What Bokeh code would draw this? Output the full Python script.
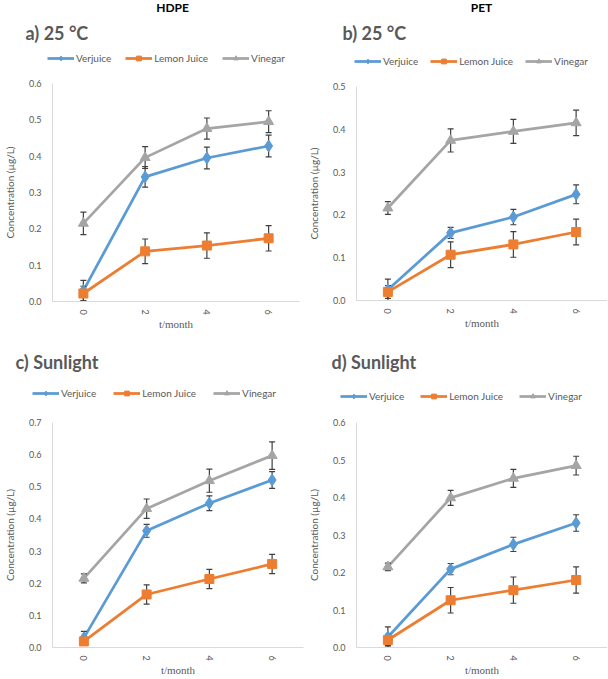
import math
from bokeh.plotting import figure
from bokeh.models import Range1d, NumeralTickFormatter, FixedTicker, Label, Legend, LegendItem
from bokeh.layouts import column, row
from bokeh.embed import file_html
from bokeh.resources import INLINE

# ---------------- data ----------------
months = ["0", "2", "4", "6"]
series_names = ["Verjuice", "Lemon Juice", "Vinegar"]

# a) HDPE, 25 oC
hdpe25_verjuice = [0.030, 0.343, 0.395, 0.428]
hdpe25_verjuice_err = [0.028, 0.028, 0.030, 0.030]
hdpe25_lemon = [0.022, 0.138, 0.154, 0.174]
hdpe25_lemon_err = [0.020, 0.034, 0.035, 0.035]
hdpe25_vinegar = [0.215, 0.396, 0.476, 0.495]
hdpe25_vinegar_err = [0.031, 0.030, 0.029, 0.030]

# b) PET, 25 oC
pet25_verjuice = [0.025, 0.158, 0.195, 0.248]
pet25_verjuice_err = [0.025, 0.013, 0.018, 0.022]
pet25_lemon = [0.020, 0.107, 0.131, 0.160]
pet25_lemon_err = [0.015, 0.030, 0.030, 0.030]
pet25_vinegar = [0.216, 0.374, 0.395, 0.415]
pet25_vinegar_err = [0.015, 0.027, 0.028, 0.030]

# c) HDPE, sunlight
hdpesun_verjuice = [0.030, 0.363, 0.449, 0.521]
hdpesun_verjuice_err = [0.020, 0.020, 0.023, 0.026]
hdpesun_lemon = [0.019, 0.165, 0.213, 0.260]
hdpesun_lemon_err = [0.012, 0.030, 0.030, 0.030]
hdpesun_vinegar = [0.215, 0.432, 0.519, 0.597]
hdpesun_vinegar_err = [0.014, 0.030, 0.036, 0.043]

# d) PET, sunlight
petsun_verjuice = [0.028, 0.209, 0.275, 0.332]
petsun_verjuice_err = [0.027, 0.015, 0.019, 0.022]
petsun_lemon = [0.020, 0.126, 0.153, 0.180]
petsun_lemon_err = [0.015, 0.034, 0.035, 0.035]
petsun_vinegar = [0.215, 0.399, 0.451, 0.485]
petsun_vinegar_err = [0.010, 0.020, 0.024, 0.025]

y_max = [0.6, 0.5, 0.7, 0.6]
column_titles = ["HDPE", "PET", None, None]
panel_labels = ["a)  25 \u00b0C", "b)  25 \u00b0C", "c)  Sunlight", "d)  Sunlight"]

colors = ["#5B9BD5", "#ED7D31", "#A5A5A5"]
markers = ["diamond", "square", "triangle"]
marker_sizes = [12, 9, 10]
legend_marker_sizes = [10, 8, 9]
ERR_COLOR = "#404040"
TXT = "#595959"

panels_data = [
    [(hdpe25_verjuice, hdpe25_verjuice_err), (hdpe25_lemon, hdpe25_lemon_err), (hdpe25_vinegar, hdpe25_vinegar_err)],
    [(pet25_verjuice, pet25_verjuice_err), (pet25_lemon, pet25_lemon_err), (pet25_vinegar, pet25_vinegar_err)],
    [(hdpesun_verjuice, hdpesun_verjuice_err), (hdpesun_lemon, hdpesun_lemon_err), (hdpesun_vinegar, hdpesun_vinegar_err)],
    [(petsun_verjuice, petsun_verjuice_err), (petsun_lemon, petsun_lemon_err), (petsun_vinegar, petsun_vinegar_err)],
]

# layout geometry in page pixels: quadrant origin/size, plot frame top, borders,
# and positions of title / panel label / legend
geom = [
    dict(ox=0, oy=0, w=304, h=340, ftop=83, bl=43, br=5, bb=39,
         title=(172, 7), plabel=(25, 32), legend=(47, 58), spacing=14),
    dict(ox=304, oy=0, w=303, h=340, ftop=86, bl=52, br=0, bb=40,
         title=(481, 7), plabel=(342, 32), legend=(354, 61), spacing=12),
    dict(ox=0, oy=340, w=304, h=338, ftop=422, bl=42, br=1, bb=31,
         title=None, plabel=(15, 361), legend=(32, 393), spacing=17),
    dict(ox=304, oy=340, w=303, h=338, ftop=422, bl=52, br=0, bb=31,
         title=None, plabel=(331, 361), legend=(340, 396), spacing=16),
]
TOP_PAD = 6
LEG_H = 12
NAN = float("nan")


def make_header(i, hh):
    g = geom[i]
    w = g["w"]
    hd = figure(width=w, height=hh, x_range=Range1d(0, w), y_range=Range1d(0, hh),
                output_backend="svg", toolbar_location=None, min_border=0,
                x_axis_location=None, y_axis_location=None, frame_align=False)
    hd.outline_line_color = None
    hd.grid.visible = False
    hd.background_fill_color = "white"
    hd.border_fill_color = "white"

    def hx(xw):
        return xw - g["ox"]

    def hy(yw):
        return hh - (yw - g["oy"])

    if column_titles[i]:
        tx, ty = g["title"]
        hd.add_layout(Label(x=hx(tx), y=hy(ty), text=column_titles[i], text_font="Lato",
                            text_font_size="12px", text_font_style="bold", text_color="black",
                            text_align="center", text_baseline="middle"))
    px, py = g["plabel"]
    hd.add_layout(Label(x=hx(px), y=hy(py), text=panel_labels[i], text_font="Lato",
                        text_font_size="18px", text_font_style="bold", text_color=TXT,
                        text_align="left", text_baseline="middle"))

    # legend proxies (no visible data of their own)
    items = []
    for n, c, m, s in zip(series_names, colors, markers, legend_marker_sizes):
        lr = hd.line(x=[NAN], y=[NAN], line_color=c, line_width=2.75)
        mr = hd.scatter(x=[NAN], y=[NAN], marker=m, size=s, fill_color=c, line_color=c)
        items.append(LegendItem(label=n, renderers=[lr, mr]))
    lx, ly = g["legend"]
    leg = Legend(items=items, location=(hx(lx), hy(ly) - LEG_H / 2), orientation="horizontal",
                 margin=0, padding=0, spacing=g["spacing"], glyph_width=27, glyph_height=LEG_H,
                 label_height=LEG_H, label_standoff=2, label_text_font="Lato",
                 label_text_font_size="10px", label_text_color=TXT,
                 background_fill_alpha=0, border_line_color=None)
    hd.add_layout(leg)
    return hd


def make_plot(i):
    g = geom[i]
    ymax = y_max[i]
    ph = g["oy"] + g["h"] - (g["ftop"] - TOP_PAD)
    p = figure(width=g["w"], height=ph, x_range=months, y_range=Range1d(0, ymax),
               output_backend="svg", toolbar_location=None, frame_align=False,
               min_border_left=g["bl"], min_border_right=g["br"],
               min_border_top=TOP_PAD, min_border_bottom=g["bb"])
    p.outline_line_color = None
    p.xgrid.visible = False
    p.ygrid.visible = False
    p.background_fill_color = "white"
    p.border_fill_color = "white"

    nt = int(round(ymax / 0.1))
    p.yaxis.ticker = FixedTicker(ticks=[round(k * 0.1, 1) for k in range(nt + 1)])
    p.yaxis.formatter = NumeralTickFormatter(format="0.0")

    for ax in (p.xaxis[0], p.yaxis[0]):
        ax.axis_line_color = "#D9D9D9"
        ax.axis_line_width = 1
        ax.major_tick_line_color = None
        ax.minor_tick_line_color = None
        ax.major_label_text_color = TXT
        ax.major_label_text_font = "Lato"
        ax.major_label_text_font_size = "9px"
        ax.axis_label_text_color = TXT
        ax.axis_label_text_font_style = "normal"
    p.yaxis.major_label_standoff = 5
    p.yaxis.axis_label_standoff = 10
    p.xaxis.major_label_standoff = 2
    p.xaxis.axis_label_standoff = 0
    p.xaxis.major_label_orientation = -math.pi / 2
    p.yaxis.axis_label = "Concentration (\u00b5g/L)"
    p.yaxis.axis_label_text_font = "Lato"
    p.yaxis.axis_label_text_font_size = "10px"
    p.xaxis.axis_label = "t/month"
    p.xaxis.axis_label_text_font = "Liberation Serif"
    p.xaxis.axis_label_text_font_size = "11px"

    series = panels_data[i]
    for (vals, errs), c in zip(series, colors):
        p.line(x=months, y=vals, line_color=c, line_width=2.75)
    for vals, errs in series:
        lower = [v - e for v, e in zip(vals, errs)]
        upper = [v + e for v, e in zip(vals, errs)]
        p.segment(x0=months, y0=lower, x1=months, y1=upper, line_color=ERR_COLOR, line_width=1.2)
        p.scatter(x=months + months, y=lower + upper, marker="dash", size=6,
                  line_color=ERR_COLOR, line_width=1.2)
    for (vals, errs), c, m, s in zip(series, colors, markers, marker_sizes):
        p.scatter(x=months, y=vals, marker=m, size=s, fill_color=c, line_color=c)
    return p


quads = []
for i in range(4):
    g = geom[i]
    hh = g["ftop"] - TOP_PAD - g["oy"]
    quads.append(column(make_header(i, hh), make_plot(i)))
layout = column(row(quads[0], quads[1]), row(quads[2], quads[3]))

open("out.html", "w").write(file_html(layout, INLINE))
